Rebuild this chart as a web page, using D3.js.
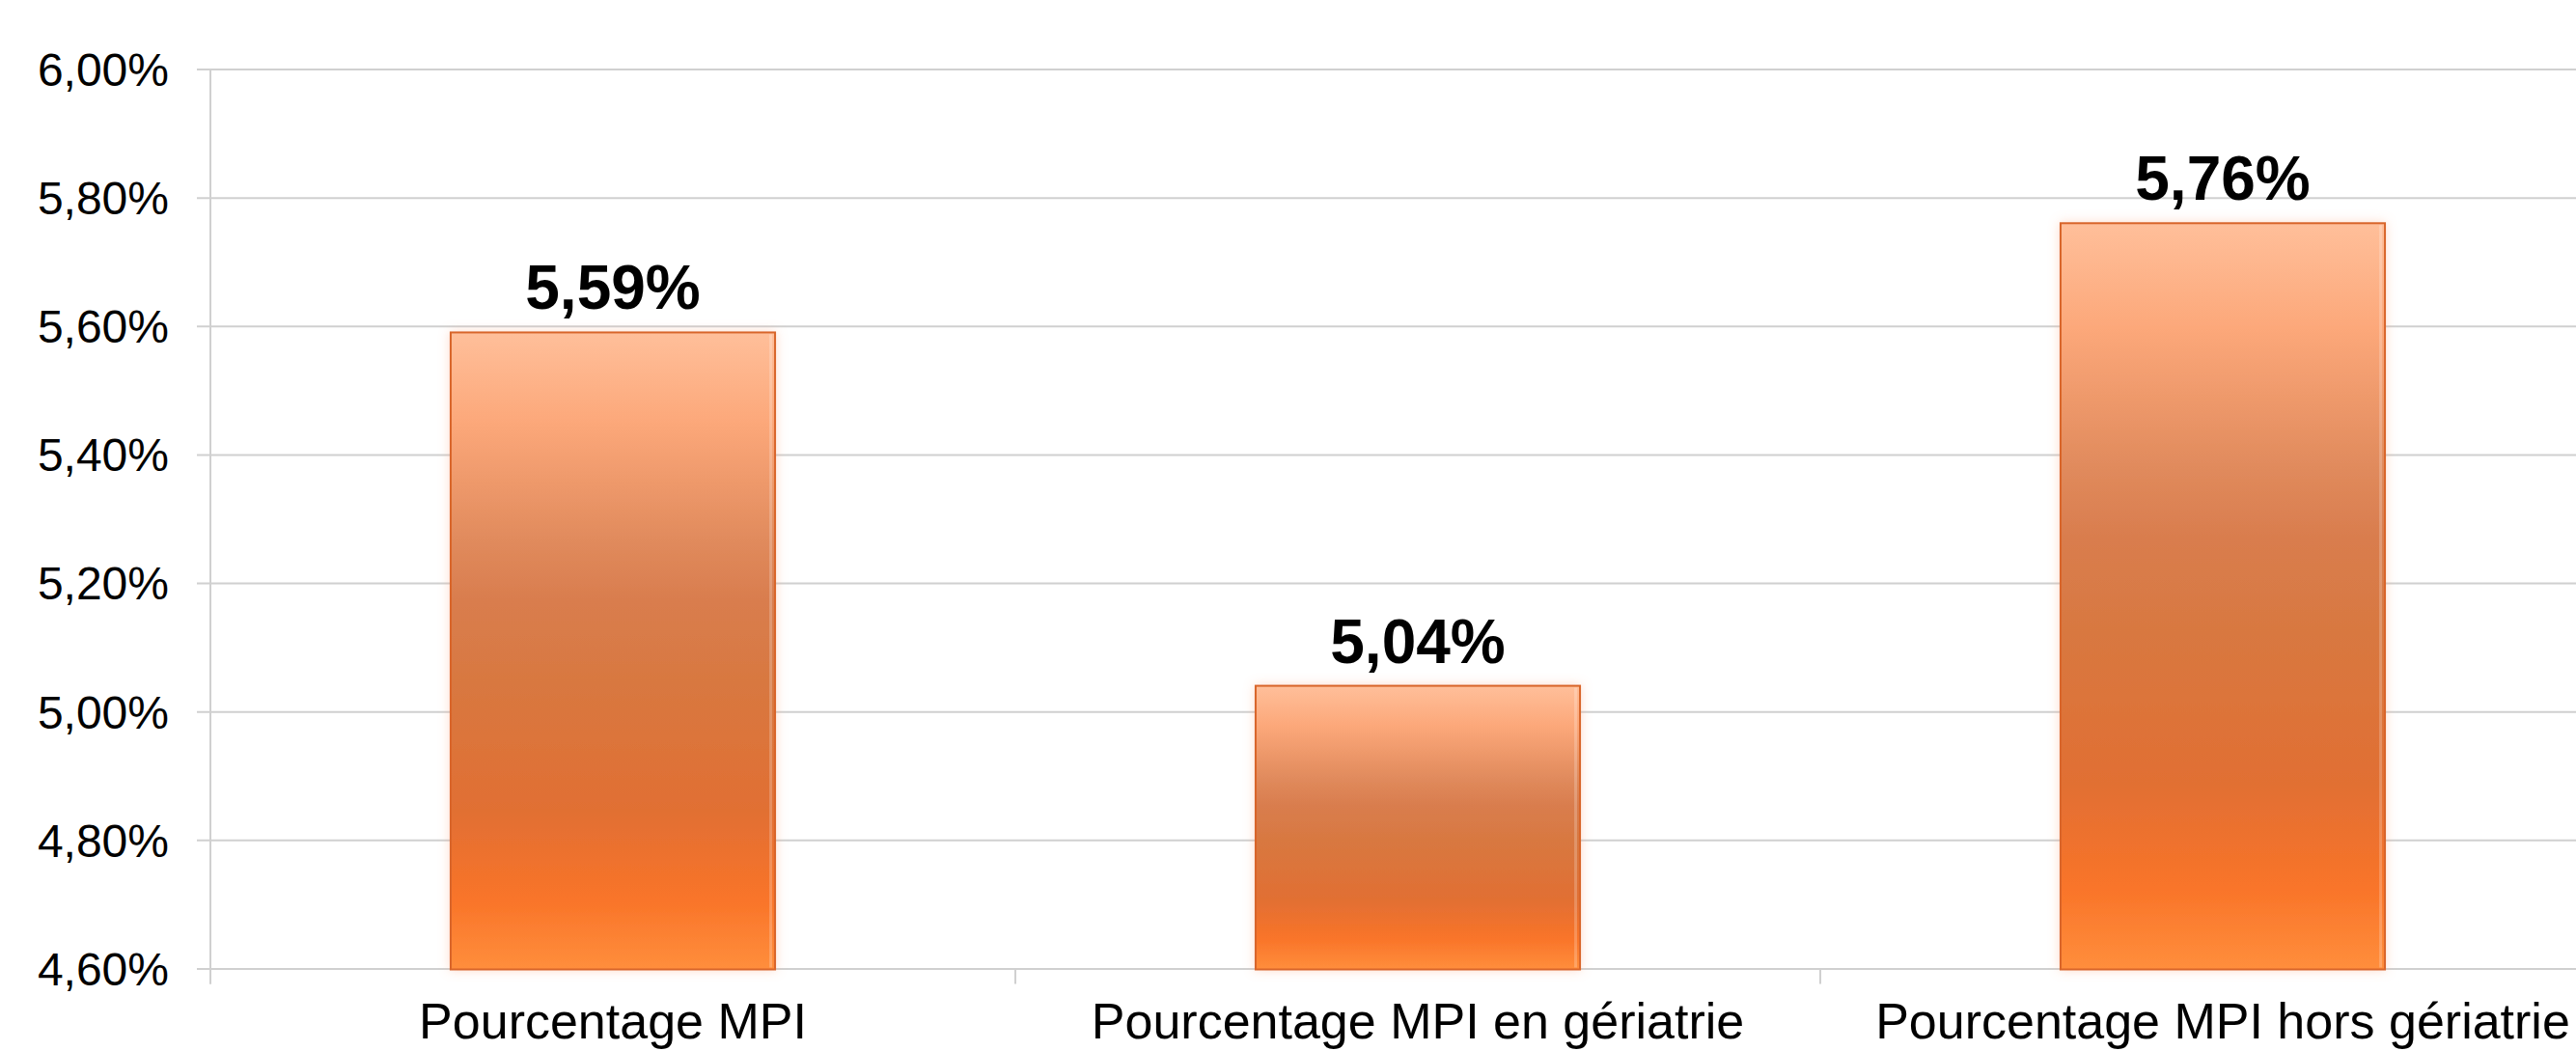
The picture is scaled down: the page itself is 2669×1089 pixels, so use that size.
<!DOCTYPE html>
<html lang="fr">
<head>
<meta charset="utf-8">
<title>Pourcentage MPI</title>
<script src="https://cdn.jsdelivr.net/npm/d3@7/dist/d3.min.js"></script>
<style>
  html, body { margin: 0; padding: 0; background: #ffffff; }
  svg { display: block; }
  text { font-family: "Liberation Sans", Arial, Helvetica, sans-serif; fill: #000; }
</style>
</head>
<body>
<svg id="chart" width="2669" height="1089"></svg>
<script>
// Chart data
const categories = ["Pourcentage MPI", "Pourcentage MPI en gériatrie", "Pourcentage MPI hors gériatrie"];
const values = [0.0559, 0.0504, 0.0576];
const yTicks = [0.046, 0.048, 0.050, 0.052, 0.054, 0.056, 0.058, 0.060];
const yDomain = [0.046, 0.060];

const W = 2669, H = 1089;
const margin = { left: 218, top: 71.5, bottom: 1003.5, right: 2720 };

const fr = d3.formatLocale({ decimal: ",", thousands: "\u00a0", grouping: [3], currency: ["", " €"] });
const pct = fr.format(".2%");

const svg = d3.select("#chart");
const defs = svg.append("defs");

// Vertical gradient of the bars: light peach at the top, brownish middle, bright orange at the base
const grad = defs.append("linearGradient")
  .attr("id", "barFill").attr("x1", 0).attr("y1", 0).attr("x2", 0).attr("y2", 1);
[
  [0.00, "#ffbf9a"],
  [0.14, "#fca87a"],
  [0.33, "#e08a5c"],
  [0.42, "#d97d4e"],
  [0.55, "#d87840"],
  [0.75, "#e16f33"],
  [0.89, "#f97429"],
  [1.00, "#ff8e3c"]
].forEach(([o, c]) => grad.append("stop").attr("offset", o).attr("stop-color", c));

// Soft peach halo around each bar
const glow = defs.append("filter").attr("id", "glow")
  .attr("x", "-10%").attr("y", "-10%").attr("width", "120%").attr("height", "120%");
glow.append("feGaussianBlur").attr("in", "SourceAlpha").attr("stdDeviation", 6).attr("result", "blur");
glow.append("feFlood").attr("flood-color", "#ff9a70").attr("flood-opacity", 0.35).attr("result", "col");
glow.append("feComposite").attr("in", "col").attr("in2", "blur").attr("operator", "in").attr("result", "halo");
const merge = glow.append("feMerge");
merge.append("feMergeNode").attr("in", "halo");
merge.append("feMergeNode").attr("in", "SourceGraphic");

const x = d3.scaleBand()
  .domain(categories)
  .range([margin.left, margin.right])
  .paddingInner(0.597)
  .paddingOuter(0.2985);

const y = d3.scaleLinear().domain(yDomain).range([margin.bottom, margin.top]);

// Horizontal gridlines with outward ticks
const yAxis = d3.axisLeft(y)
  .tickValues(yTicks)
  .tickSize(-(margin.right - margin.left))
  .tickSizeOuter(0)
  .tickPadding(43)
  .tickFormat(pct);

const gy = svg.append("g").attr("transform", `translate(${margin.left},0)`).call(yAxis);
gy.select(".domain").remove();
gy.selectAll(".tick line")
  .attr("x1", -14)
  .attr("stroke", "#d0d0d0")
  .attr("stroke-width", 2);
gy.selectAll(".tick text")
  .attr("font-size", 48)
  .attr("dy", "0.35em")
  .style("font-family", '"Liberation Sans", Arial, sans-serif');

// Vertical axis line
svg.append("line")
  .attr("x1", margin.left).attr("x2", margin.left)
  .attr("y1", margin.top).attr("y2", margin.bottom + 16)
  .attr("stroke", "#d0d0d0").attr("stroke-width", 2);

// Category separators below the baseline
const step = x.step();
svg.append("g").selectAll("line")
  .data(d3.range(categories.length + 1))
  .join("line")
  .attr("x1", i => margin.left + i * step)
  .attr("x2", i => margin.left + i * step)
  .attr("y1", margin.bottom)
  .attr("y2", margin.bottom + 16)
  .attr("stroke", "#d0d0d0").attr("stroke-width", 2);

// Bars
const bars = svg.append("g").selectAll("g.bar")
  .data(categories.map((c, i) => ({ c, v: values[i] })))
  .join("g").attr("class", "bar");

bars.append("rect")
  .attr("x", d => x(d.c))
  .attr("y", d => y(d.v))
  .attr("width", x.bandwidth())
  .attr("height", d => y(yDomain[0]) - y(d.v) + 1)
  .attr("fill", "url(#barFill)")
  .attr("stroke", "#d8652a")
  .attr("stroke-width", 2)
  .attr("filter", "url(#glow)");

// Light inner highlight along the right edge
bars.append("rect")
  .attr("x", d => x(d.c) + x.bandwidth() - 6)
  .attr("y", d => y(d.v) + 2)
  .attr("width", 3)
  .attr("height", d => y(yDomain[0]) - y(d.v) - 3)
  .attr("fill", "#ffffff")
  .attr("opacity", 0.22);

// Value labels
bars.append("text")
  .attr("x", d => x(d.c) + x.bandwidth() / 2)
  .attr("y", d => y(d.v) - 24)
  .attr("text-anchor", "middle")
  .attr("font-size", 64)
  .attr("font-weight", "bold")
  .text(d => pct(d.v));

// Category labels
svg.append("g").selectAll("text")
  .data(categories)
  .join("text")
  .attr("x", d => x(d) + x.bandwidth() / 2)
  .attr("y", 1076)
  .attr("text-anchor", "middle")
  .attr("font-size", 52)
  .text(d => d);
</script>
</body>
</html>
